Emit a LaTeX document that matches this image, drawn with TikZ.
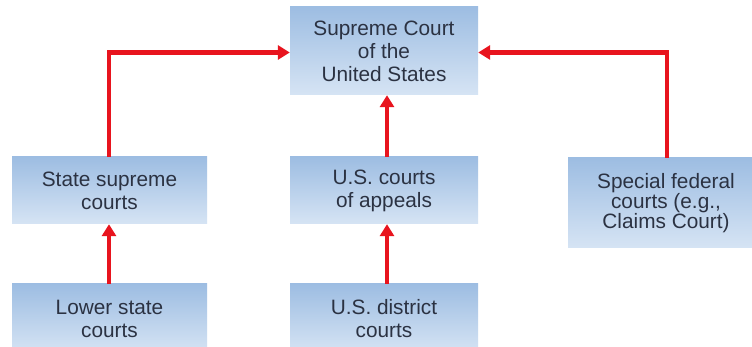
\documentclass[tikz,border=0pt]{standalone}
\usepackage{fontspec}
\setmainfont{Liberation Sans}
\usetikzlibrary{arrows.meta}
\definecolor{boxtop}{HTML}{9DBDE2}
\definecolor{boxbot}{HTML}{D6E4F4}
\definecolor{txt}{HTML}{2B3242}
\definecolor{arr}{HTML}{E8141E}
\tikzset{
  court/.style={rectangle, inner sep=0pt, top color=boxtop, bottom color=boxbot, draw=none,
    align=center, text=txt, font=\fontsize{20.8}{23}\selectfont},
  link/.style={draw=arr, line width=4.6pt, -{Triangle[width=14pt,length=12pt]}}
}
\begin{document}
\begin{tikzpicture}[x=1pt,y=1pt]
\useasboundingbox (0,0) rectangle (752,347);
\clip (0,0) rectangle (752,347);
\fill[white] (0,0) rectangle (752,347);
\node[court, minimum width=188pt, minimum height=88pt] (sc) at (384,296) {Supreme Court\\of the\\United States};
\node[court, minimum width=195pt, minimum height=67pt] (ss) at (109.5,156.5) {State supreme\\courts};
\node[court, minimum width=188pt, minimum height=67pt] (ap) at (384,156.5) {U.S. courts\\of appeals};
\node[court, minimum width=196pt, minimum height=90pt, font=\fontsize{20.8}{20}\selectfont] (sp) at (666,144) {Special federal\\courts (e.g.,\\Claims Court)};
\node[court, minimum width=195pt, minimum height=69pt] (ls) at (109.5,28.5) {Lower state\\courts};
\node[court, minimum width=188pt, minimum height=69pt] (dc) at (384,28.5) {U.S. district\\courts};
\coordinate (cl) at (109,294.5);
\coordinate (cr) at (667,294.5);
\coordinate (cm) at (387,0);
\draw[link] (ss.north -| cl) |- (sc.west |- cl);
\draw[link] (sp.north -| cr) |- (sc.east |- cr);
\draw[link] (ap.north -| cm) -- (sc.south -| cm);
\draw[link] (ls.north -| cl) -- (ss.south -| cl);
\draw[link] (dc.north -| cm) -- (ap.south -| cm);
\end{tikzpicture}
\end{document}
